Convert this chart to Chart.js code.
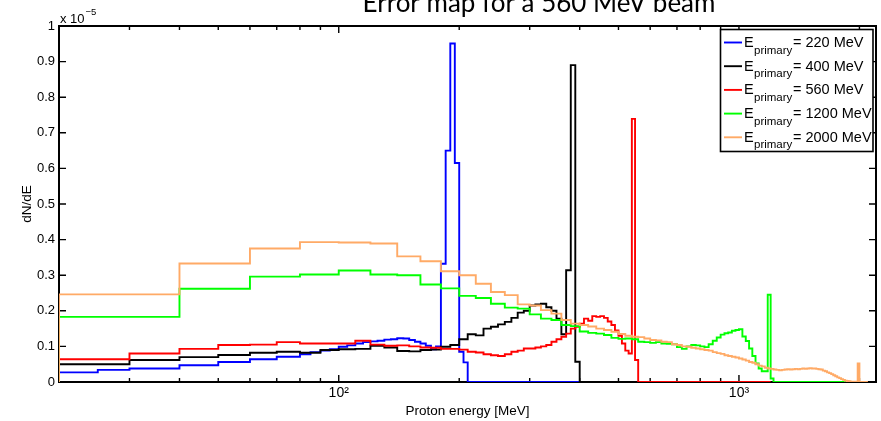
<!DOCTYPE html>
<html><head><meta charset="utf-8">
<script src="https://cdn.jsdelivr.net/npm/chart.js@4.4.0/dist/chart.umd.min.js"></script>
<style>html,body{margin:0;padding:0;background:#fff;}#wrap{width:881px;height:421px;position:relative;}</style>
</head><body><div id="wrap"><canvas id="c" width="881" height="421"></canvas></div>
<script>
// ---------- text ----------
const titleText = 'Error map for a 560 MeV beam';
const xAxisTitle = 'Proton energy [MeV]';
const yAxisTitle = 'dN/dE';
const yMultiplierBase = 'x 10';
const yMultiplierExp = '\u22125';

// ---------- axes ----------
const xRange = [20, 2200];           // MeV, log axis
const yRange = [0, 1];               // units of 1e-5
const yTickValues = [0, 0.1, 0.2, 0.3, 0.4, 0.5, 0.6, 0.7, 0.8, 0.9, 1];
const xTickValues = [20, 30, 40, 50, 60, 70, 80, 90, 100, 200, 300, 400, 500, 600, 700, 800, 900, 1000, 2000];
const xMajorTicks = [100, 1000];
const xTickLabels = {100: '10\u00B2', 1000: '10\u00B3'};

// ---------- series (dN/dE in units of 1e-5, histogram bins starting at binStart) ----------
const seriesPrimary = [220, 400, 560, 1200, 2000];
const seriesColors = ['#0000ff', '#000000', '#ff0000', '#00ff00', '#ffaa66'];
const binStart = 20;
const binWidths = [5, 10, 10, 20, 20];          // MeV
const rangeEnds = [400, 560, 1200, 1980, 2100]; // MeV, end of each histogram (zeros after)

const blue220 = [0.027,0.034,0.038,0.038,0.047,0.047,0.056,0.056,0.064,0.064,
  0.071,0.071,0.078,0.084,0.088,0.092,0.099,0.103,0.108,0.112,
  0.114,0.116,0.119,0.120,0.123,0.122,0.118,0.113,0.108,0.102,
  0.092,0.100,0.332,0.650,0.951,0.615,0.085,0.055];

const black400 = [0.050,0.062,0.070,0.076,0.082,0.085,0.082,0.090,0.092,0.093,
  0.102,0.097,0.087,0.086,0.090,0.091,0.099,0.104,0.120,0.134,
  0.131,0.150,0.155,0.162,0.169,0.180,0.195,0.200,0.215,0.218,
  0.220,0.210,0.200,0.178,0.134,0.314,0.890,0.057];

const red560 = [0.064,0.080,0.093,0.104,0.105,0.112,0.108,0.108,0.108,0.116,
  0.105,0.102,0.103,0.100,0.097,0.096,0.093,0.093,0.091,0.085,
  0.083,0.078,0.075,0.073,0.078,0.085,0.088,0.094,0.094,0.097,
  0.100,0.104,0.113,0.120,0.127,0.136,0.150,0.155,0.164,0.178,
  0.172,0.185,0.183,0.185,0.180,0.170,0.160,0.145,0.130,0.108,
  0.088,0.080,0.739,0.062];

const green1200 = [0.183,0.262,0.296,0.302,0.313,0.302,0.300,0.274,0.263,0.242,
  0.236,0.220,0.209,0.206,0.190,0.178,0.174,0.160,0.157,0.142,
  0.138,0.136,0.132,0.124,0.121,0.122,0.120,0.113,0.112,0.110,
  0.112,0.108,0.107,0.106,0.098,0.093,0.100,0.104,0.103,0.100,
  0.098,0.106,0.116,0.125,0.133,0.137,0.139,0.144,0.146,0.148,
  0.128,0.115,0.094,0.073,0.052,0.038,0.030,0.030,0.245,0.010];

const orange2000 = [0.246,0.333,0.375,0.393,0.392,0.389,0.353,0.339,0.311,0.300,
  0.276,0.253,0.244,0.218,0.215,0.202,0.192,0.174,0.164,0.160,
  0.156,0.150,0.146,0.141,0.135,0.130,0.127,0.126,0.122,0.118,
  0.117,0.113,0.112,0.106,0.104,0.100,0.099,0.096,0.094,0.092,
  0.090,0.088,0.084,0.081,0.079,0.075,0.073,0.071,0.069,0.066,
  0.063,0.060,0.056,0.054,0.050,0.046,0.044,0.040,0.038,0.037,
  0.035,0.034,0.033,0.034,0.035,0.036,0.035,0.036,0.037,0.036,
  0.037,0.038,0.037,0.038,0.039,0.038,0.038,0.037,0.036,0.035,
  0.032,0.030,0.027,0.025,0.022,0.019,0.016,0.013,0.011,0.008,
  0.006,0.004,0.003,0.002,0.001,0.001,0.001,0.000,0.052];

const seriesValues = [blue220, black400, red560, green1200, orange2000];

// legend text pieces
const legendMain = 'E';
const legendSub = 'primary';

const FONT = '"Liberation Sans", Arial, Helvetica, sans-serif';

// build step outline points from bins
function stepPoints(start, width, vals, end) {
  const pts = [{x: start, y: 0}];
  vals.forEach((v, i) => pts.push({x: start + i * width, y: v}));
  const last = start + vals.length * width;
  pts.push({x: last, y: 0});
  if (end > last) pts.push({x: end, y: 0});
  return pts;
}

const datasets = seriesValues.map((vals, i) => ({
  label: 'E_primary = ' + seriesPrimary[i] + ' MeV',
  data: stepPoints(binStart, binWidths[i], vals, rangeEnds[i]),
  borderColor: seriesColors[i],
  backgroundColor: seriesColors[i],
  borderWidth: 1.9,
  pointRadius: 0,
  stepped: true,
  fill: false,
  order: seriesValues.length - 1 - i
}));

const decor = {
  id: 'decor',
  beforeDatasetsDraw(chart) {
    const {ctx, chartArea: a, scales: {x, y}} = chart;
    ctx.save();
    ctx.strokeStyle = '#000';
    ctx.lineWidth = 1.4;
    ctx.beginPath();
    yTickValues.forEach(v => {
      const py = y.getPixelForValue(v);
      ctx.moveTo(a.left, py); ctx.lineTo(a.left + 7, py);
      ctx.moveTo(a.right, py); ctx.lineTo(a.right - 7, py);
    });
    xTickValues.forEach(v => {
      const px = x.getPixelForValue(v);
      const len = xMajorTicks.includes(v) ? 7 : 4;
      ctx.moveTo(px, a.bottom); ctx.lineTo(px, a.bottom - len);
      ctx.moveTo(px, a.top); ctx.lineTo(px, a.top + len);
    });
    ctx.stroke();
    ctx.lineWidth = 2;
    ctx.strokeRect(a.left, a.top, a.right - a.left, a.bottom - a.top);
    ctx.restore();
  },
  afterDraw(chart) {
    const {ctx, chartArea: a} = chart;
    ctx.save();
    // title (partially cut at the top like the reference)
    ctx.fillStyle = '#000';
    ctx.font = '26px Lato, "Open Sans", sans-serif';
    ctx.textAlign = 'center';
    ctx.textBaseline = 'alphabetic';
    ctx.fillText(titleText, 539, 12);
    // multiplier
    ctx.textAlign = 'left';
    ctx.font = '13px ' + FONT;
    ctx.fillText(yMultiplierBase, a.left + 1, 23);
    const w = ctx.measureText(yMultiplierBase).width;
    ctx.font = '9.5px ' + FONT;
    ctx.fillText(yMultiplierExp, a.left + 2 + w, 15);
    // legend
    const bx = 720.5, by = 29.5, bw = 152.5, bh = 122;
    ctx.fillStyle = '#fff';
    ctx.fillRect(bx, by, bw, bh);
    ctx.strokeStyle = '#000';
    ctx.lineWidth = 1.6;
    ctx.strokeRect(bx, by, bw, bh);
    seriesPrimary.forEach((p, i) => {
      const ey = 42.5 + i * 23.7;
      ctx.strokeStyle = seriesColors[i];
      ctx.lineWidth = 1.9;
      ctx.beginPath(); ctx.moveTo(724, ey); ctx.lineTo(742, ey); ctx.stroke();
      ctx.fillStyle = '#000';
      ctx.font = '14.5px ' + FONT;
      ctx.fillText(legendMain, 744, ey + 4.5);
      ctx.font = '11.5px ' + FONT;
      ctx.fillText(legendSub, 754, ey + 11);
      ctx.font = '14.5px ' + FONT;
      ctx.fillText('= ' + p + ' MeV', 793, ey + 4.5);
    });
    ctx.restore();
  }
};

new Chart(document.getElementById('c'), {
  type: 'line',
  data: {datasets},
  options: {
    responsive: false,
    animation: false,
    devicePixelRatio: 1,
    layout: {padding: {top: 26, right: 5, left: 0, bottom: 0}},
    plugins: {legend: {display: false}, tooltip: {enabled: false}, title: {display: false}},
    scales: {
      x: {
        type: 'logarithmic', min: xRange[0], max: xRange[1],
        afterBuildTicks: s => { s.ticks = xTickValues.map(v => ({value: v})); },
        ticks: {autoSkip: false, maxRotation: 0, padding: 3, color: '#000',
          font: {size: 14, family: FONT},
          callback: v => xTickLabels[v] || ''},
        grid: {display: false, drawTicks: false},
        border: {display: false},
        title: {display: true, text: xAxisTitle, color: '#000', font: {size: 13.5, family: FONT}, padding: {top: 0, bottom: 2}},
        afterFit: s => { s.height = 39; }
      },
      y: {
        type: 'linear', min: yRange[0], max: yRange[1],
        afterBuildTicks: s => { s.ticks = yTickValues.map(v => ({value: v})); },
        ticks: {padding: 4, color: '#000', font: {size: 13, family: FONT},
          callback: v => String(Math.round(v * 10) / 10)},
        grid: {display: false, drawTicks: false},
        border: {display: false},
        title: {display: true, text: yAxisTitle, color: '#000', font: {size: 13.5, family: FONT}, padding: {top: 19, bottom: 0}},
        afterFit: s => { s.width = 59; }
      }
    }
  },
  plugins: [decor]
});
</script>
</body></html>
